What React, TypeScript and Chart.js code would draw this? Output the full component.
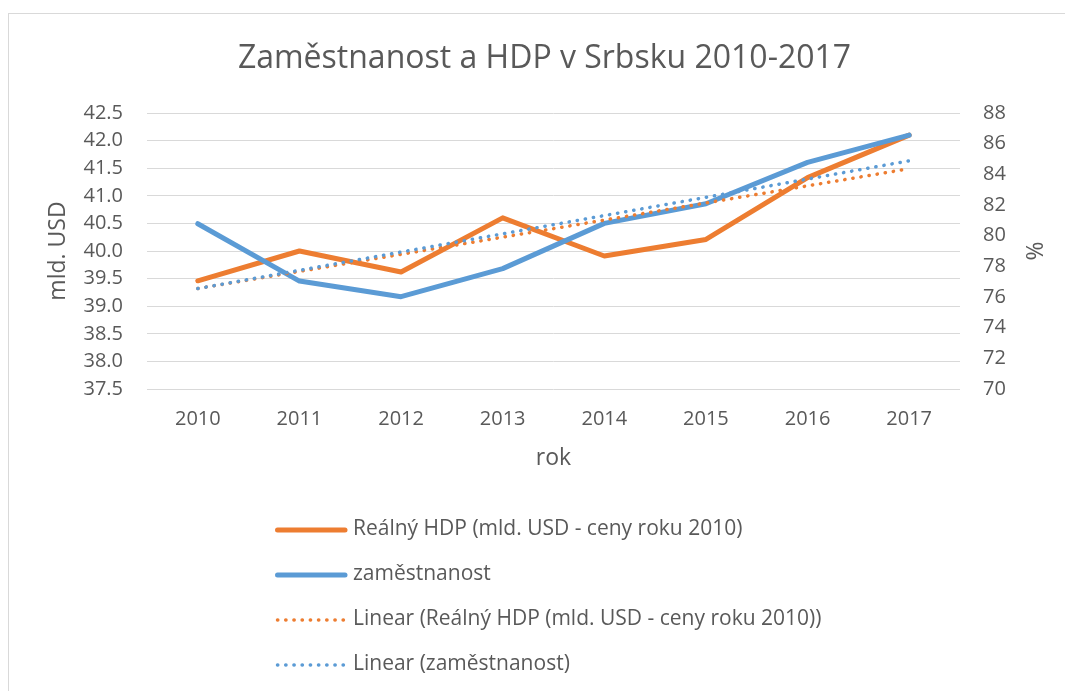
import React, { useEffect, useRef } from "react";
import { Chart, registerables } from "chart.js";

Chart.register(...registerables);

// ---- data ----
const years = ["2010", "2011", "2012", "2013", "2014", "2015", "2016", "2017"];
const hdpValues = [39.46, 40.0, 39.62, 40.6, 39.91, 40.21, 41.33, 42.1];
const employmentValues = [80.78, 77.04, 76.02, 77.85, 80.8, 82.08, 84.78, 86.56];
// trend lines: values read at the first and last year (straight line between them)
const hdpTrend = [39.32, null, null, null, null, null, null, 41.49];
const employmentTrend = [76.55, null, null, null, null, null, null, 84.88];

const titleText = "Zaměstnanost a HDP v Srbsku 2010-2017";
const seriesLabels = [
  "Reálný HDP (mld. USD - ceny roku 2010)",
  "zaměstnanost",
  "Linear (Reálný HDP (mld. USD - ceny roku 2010))",
  "Linear (zaměstnanost)",
];
const leftAxisTitle = "mld. USD";
const rightAxisTitle = "%";
const xAxisTitle = "rok";
const leftRange = { min: 37.5, max: 42.5, step: 0.5 };
const rightRange = { min: 70, max: 88, step: 2 };

const ORANGE = "#ED7D31";
const BLUE = "#5B9BD5";
const TEXT = "#595959";
const GRID = "#D9D9D9";
const FONT = "'Open Sans', 'DejaVu Sans', sans-serif";

const stackedLegend = {
  id: "stackedLegend",
  afterDraw(chart: any) {
    const ctx = chart.ctx;
    const ds = chart.data.datasets;
    ds.forEach((d: any, i: number) => {
      const y = 530 + i * 45;
      ctx.save();
      ctx.strokeStyle = d.borderColor;
      ctx.lineWidth = d.borderWidth;
      ctx.lineCap = "round";
      ctx.setLineDash(d.borderDash || []);
      ctx.beginPath();
      ctx.moveTo(277.5, y);
      ctx.lineTo(345, y);
      ctx.stroke();
      ctx.setLineDash([]);
      ctx.fillStyle = TEXT;
      ctx.font = `21px ${FONT}`;
      ctx.textAlign = "left";
      ctx.textBaseline = "middle";
      ctx.fillText(d.label, 353, y - 1);
      ctx.restore();
    });
  },
};

export default function App() {
  const canvasRef = useRef<HTMLCanvasElement | null>(null);

  useEffect(() => {
    const canvas = canvasRef.current;
    if (!canvas) return;
    const chart = new Chart(canvas, {
      type: "line",
      data: {
        labels: years,
        datasets: [
          {
            label: seriesLabels[0],
            data: hdpValues,
            yAxisID: "y",
            borderColor: ORANGE,
            backgroundColor: ORANGE,
            borderWidth: 5,
            borderCapStyle: "round",
            borderJoinStyle: "round",
            pointRadius: 0,
            tension: 0,
            order: 3,
          },
          {
            label: seriesLabels[1],
            data: employmentValues,
            yAxisID: "y1",
            borderColor: BLUE,
            backgroundColor: BLUE,
            borderWidth: 5,
            borderCapStyle: "round",
            borderJoinStyle: "round",
            pointRadius: 0,
            tension: 0,
            order: 2,
          },
          {
            label: seriesLabels[2],
            data: hdpTrend,
            yAxisID: "y",
            borderColor: ORANGE,
            backgroundColor: ORANGE,
            borderWidth: 3.5,
            borderCapStyle: "round",
            borderDash: [0.3, 7.9],
            pointRadius: 0,
            spanGaps: true,
            tension: 0,
            order: 1,
          },
          {
            label: seriesLabels[3],
            data: employmentTrend,
            yAxisID: "y1",
            borderColor: BLUE,
            backgroundColor: BLUE,
            borderWidth: 3.5,
            borderCapStyle: "round",
            borderDash: [0.3, 7.9],
            pointRadius: 0,
            spanGaps: true,
            tension: 0,
            order: 0,
          },
        ],
      },
      options: {
        responsive: false,
        animation: false,
        layout: { padding: { left: 24, right: 0, top: 0, bottom: 0 } },
        plugins: {
          legend: { display: false },
          tooltip: { enabled: false },
          title: {
            display: true,
            text: titleText,
            color: TEXT,
            font: { family: FONT, size: 32, weight: "normal" as any, lineHeight: 1.2 },
            padding: { top: 40, bottom: 34.6 },
          },
        },
        scales: {
          x: {
            type: "category",
            offset: true,
            grid: { display: false, drawTicks: false },
            border: { display: false },
            ticks: {
              color: TEXT,
              font: { family: FONT, size: 20 },
              padding: 18,
              maxRotation: 0,
            },
            title: {
              display: true,
              text: xAxisTitle,
              color: TEXT,
              font: { family: FONT, size: 23 },
              padding: { top: 0, bottom: 219.2 },
            },
            afterFit(scale: any) {
              scale.height = 302;
            },
          },
          y: {
            type: "linear",
            position: "left",
            min: leftRange.min,
            max: leftRange.max,
            grid: { color: GRID, lineWidth: 1, drawTicks: false },
            border: { display: false },
            ticks: {
              stepSize: leftRange.step,
              color: TEXT,
              font: { family: FONT, size: 20 },
              padding: 24,
              callback: (v: any) => Number(v).toFixed(1),
            },
            title: {
              display: true,
              text: leftAxisTitle,
              color: TEXT,
              font: { family: FONT, size: 23 },
              padding: { top: 21, bottom: 0 },
            },
            afterFit(scale: any) {
              scale.width = 123;
            },
          },
          y1: {
            type: "linear",
            position: "right",
            min: rightRange.min,
            max: rightRange.max,
            grid: { drawOnChartArea: false, drawTicks: false },
            border: { display: false },
            ticks: {
              stepSize: rightRange.step,
              color: TEXT,
              font: { family: FONT, size: 20 },
              padding: 23,
            },
            title: {
              display: true,
              text: rightAxisTitle,
              color: TEXT,
              font: { family: FONT, size: 23 },
              padding: { top: 19, bottom: 0 },
            },
            afterFit(scale: any) {
              scale.width = 105;
            },
          },
        },
      },
      plugins: [stackedLegend],
    });
    return () => chart.destroy();
  }, []);

  return (
    <div
      style={{
        position: "fixed",
        left: 0,
        top: 0,
        width: 1065,
        height: 691,
        background: "#fff",
        overflow: "hidden",
      }}
    >
      <div
        style={{
          position: "absolute",
          left: 8,
          top: 13,
          width: 1200,
          height: 800,
          borderTop: "1px solid #D9D9D9",
          borderLeft: "1px solid #D9D9D9",
        }}
      />
      <canvas
        ref={canvasRef}
        width={1065}
        height={691}
        style={{ position: "absolute", left: 0, top: 0, width: 1065, height: 691 }}
      />
    </div>
  );
}
